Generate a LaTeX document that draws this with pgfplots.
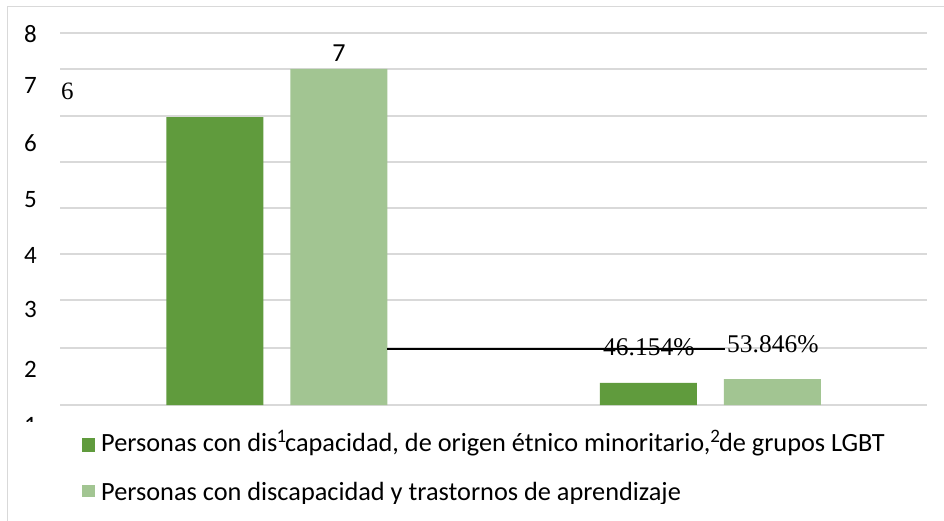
\documentclass[border=0pt]{standalone}
\usepackage{pgfplots}
\pgfplotsset{compat=1.18}
\usepackage{fontspec}
\setmainfont{Carlito}
\newfontfamily\timesfont{Liberation Serif}
\definecolor{dkgreen}{HTML}{609B3D}
\definecolor{ltgreen}{HTML}{A2C592}
\definecolor{gridgray}{HTML}{D9D9D9}
\newcommand\supnum[1]{\raisebox{9pt}{\fontsize{19}{19}\selectfont #1}}
\begin{document}
\begin{tikzpicture}[x=1pt,y=1pt]
\useasboundingbox (0,0) rectangle (944,520);
\clip (0,0) rectangle (944,520);
\fill[white] (0,0) rectangle (944,520);
\draw[gridgray, line width=1.5pt] (7.5,-5) -- (7.5,513.5) -- (960,513.5);
\begin{axis}[
  at={(60pt,115pt)}, anchor=south west,
  scale only axis, width=867pt, height=372pt,
  xmin=-0.5, xmax=1.5, ymin=0, ymax=7.75,
  axis line style={draw=none},
  xtick=\empty,
  ytick={0,1.19,2.19,3.15,4.10,5.06,6.02,7.0,7.75},
  yticklabels={},
  ymajorgrids, major grid style={gridgray, line width=1.5pt},
  major tick length=0pt,
  extra y ticks={7.73,6.66,5.46,4.27,3.125,1.98,0.75},
  extra y tick labels={8,7,6,5,4,3,2},
  extra y tick style={grid=none},
  yticklabel style={font=\fontsize{25}{30}\selectfont, inner sep=0pt, anchor=east, xshift=-23pt},
  /pgf/number format/assume math mode=true,
  ybar, bar width=97pt,
  clip=false,
]
\addplot[fill=dkgreen, draw=none, bar shift=-62pt] coordinates {(0,6) (1,0.46154)};
\addplot[fill=ltgreen, draw=none, bar shift=62pt] coordinates {(0,7) (1,0.53846)};
\node[anchor=base west, inner sep=0pt, font=\timesfont\fontsize{25}{30}\selectfont] at (axis cs:-0.4977,6.375) {6};
\node[anchor=base, inner sep=0pt, font=\fontsize{26}{30}\selectfont] at (axis cs:0.1436,7.146) {7};
\node[anchor=base west, inner sep=0pt, font=\timesfont\fontsize{25.5}{30}\selectfont] at (axis cs:0.7526,1.0417) {46.154\%};
\node[anchor=base west, inner sep=0pt, font=\timesfont\fontsize{25.5}{30}\selectfont] at (axis cs:1.0386,1.104) {53.846\%};
\addplot[black, line width=1.5pt, sharp plot, forget plot] coordinates {(0.2543,1.1667) (1.034,1.1667)};
\end{axis}
\begin{scope}
\clip (0,99) rectangle (60,115);
\node[anchor=east, inner sep=0pt, font=\fontsize{25}{30}\selectfont] at (37,95) {1};
\end{scope}
\fill[dkgreen] (82,68) rectangle (95,82);
\node[anchor=base west, inner sep=0pt, font=\fontsize{26.3}{30}\selectfont] at (101,69) {Personas con dis\kern-1pt\supnum{1}\kern-1pt capacidad, de origen étnico minoritario,\supnum{2}\kern-1pt de grupos LGBT};
\fill[ltgreen] (82,23) rectangle (95,35);
\begin{scope}
\clip (0,17) rectangle (944,60);
\node[anchor=base west, inner sep=0pt, font=\fontsize{26.3}{30}\selectfont] at (101,20) {Personas con discapacidad y trastornos de aprendizaje};
\end{scope}
\end{tikzpicture}
\end{document}
